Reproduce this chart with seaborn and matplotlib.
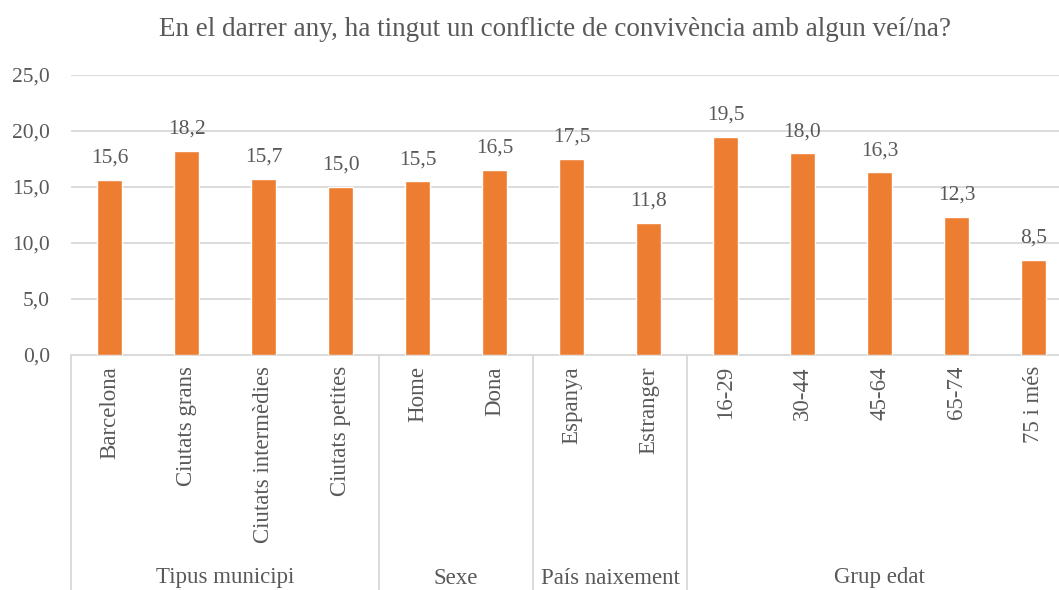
import matplotlib
matplotlib.use("Agg")
import matplotlib.pyplot as plt
import matplotlib.transforms as mtransforms
import seaborn as sns
import pandas as pd

categories = ["Barcelona", "Ciutats grans", "Ciutats intermèdies", "Ciutats petites",
              "Home", "Dona", "Espanya", "Estranger",
              "16-29", "30-44", "45-64", "65-74", "75 i més"]
values = [15.6, 18.2, 15.7, 15.0, 15.5, 16.5, 17.5, 11.8, 19.5, 18.0, 16.3, 12.3, 8.5]
groups = ["Tipus municipi", "Sexe", "País naixement", "Grup edat"]
group_sizes = [4, 2, 2, 5]
y_ticks = [0, 5, 10, 15, 20, 25]
title = "En el darrer any, ha tingut un conflicte de convivència amb algun veí/na?"

sns.set_theme(style="white")
plt.rcParams['font.family'] = ['Liberation Serif', 'DejaVu Serif']

TXT = "#595959"
GRID = "#d9d9d9"
ORANGE = "#ED7D31"

W, H = 1059, 590
fig = plt.figure(figsize=(W / 100, H / 100), dpi=100)
x0, x1 = 71, 71 + 13 * 77
y0, y1 = 355, 75
ax = fig.add_axes([x0 / W, (H - y0) / H, (x1 - x0) / W, (y0 - y1) / H])

df = pd.DataFrame({"cat": categories, "val": values})
sns.barplot(data=df, x="cat", y="val", color=ORANGE, width=0.32, saturation=1, ax=ax, zorder=3)

ax.set_xlim(-0.5, len(categories) - 0.5)
ax.set_ylim(0, 25)
ax.set_yticks(y_ticks)
ax.set_yticklabels([f"{t:.1f}".replace(".", ",") for t in y_ticks], color=TXT, fontsize=15.5)
ax.yaxis.grid(True, color=GRID, linewidth=1.3, zorder=0)
ax.set_axisbelow(True)
for s in ["left", "right", "top"]:
    ax.spines[s].set_visible(False)
ax.spines["bottom"].set_color(GRID)
ax.spines["bottom"].set_linewidth(1.3)
ax.tick_params(axis="y", length=0, pad=15)
ax.tick_params(axis="x", length=0, pad=8)
ax.set_xticks(range(len(categories)))
ax.set_xticklabels(categories, rotation=90, color=TXT, fontsize=16.5, va="top")
ax.set_xlabel("")
ax.set_ylabel("")

for i, v in enumerate(values):
    ax.text(i, v + 1.1, f"{v:.1f}".replace(".", ","), ha="center", va="bottom",
            color=TXT, fontsize=15.5)

trans = mtransforms.blended_transform_factory(ax.transData, ax.transAxes)
ybot = -(H - y0) / (y0 - y1)
ylab = -(578 - y0) / (y0 - y1)
pos = -0.5
bounds = [pos]
for g, n in zip(groups, group_sizes):
    ax.text(pos + n / 2, ylab, g, transform=trans, ha="center", va="center",
            color=TXT, fontsize=16.5)
    pos += n
    bounds.append(pos)
for b in bounds:
    ax.plot([b, b], [0, ybot], transform=trans, color=GRID, linewidth=1.3, clip_on=False)

fig.text(555 / W, 1 - 30 / H, title, ha="center", va="center", color=TXT, fontsize=19.5)

fig.savefig("out.png", dpi=100)
